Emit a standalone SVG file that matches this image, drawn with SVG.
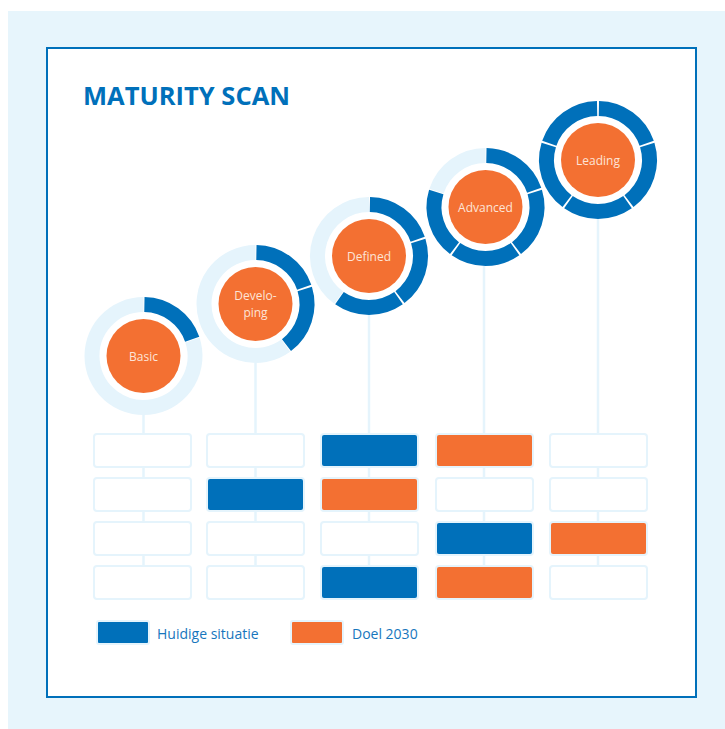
<svg xmlns="http://www.w3.org/2000/svg" xmlns:xlink="http://www.w3.org/1999/xlink" width="725" height="729" viewBox="0 0 725 729">
<style>
.lt{fill:none;stroke:#E5F4FC;stroke-width:15}
.bl{fill:none;stroke:#0070BA;stroke-width:15}
.core{fill:#F37032}
.lbl{font-family:"Open Sans","Noto Sans",sans-serif;font-size:12px;fill:#FDE4D7;text-anchor:middle}
.conn{stroke:#E5F4FC;stroke-width:2.5;fill:none}
.box{stroke:#E5F4FC;stroke-width:2}
.e{fill:#FFFFFF}
.b{fill:#0070BA}
.o{fill:#F37032}
.leg{font-family:"Open Sans","Noto Sans",sans-serif;font-size:14px;fill:#1776BD}
</style>
<defs>
<path id="s0" class="bl" d="M0.899,-51.492 A51.5,51.5 0 0 1 48.694,-16.767"/>
<path id="s1" class="bl" d="M49.249,-15.057 A51.5,51.5 0 0 1 30.994,41.130"/>
<path id="s2" class="bl" d="M29.539,42.186 A51.5,51.5 0 0 1 -29.539,42.186"/>
<path id="s3" class="bl" d="M-30.994,41.130 A51.5,51.5 0 0 1 -49.249,-15.057"/>
<path id="s4" class="bl" d="M-48.694,-16.767 A51.5,51.5 0 0 1 -0.899,-51.492"/>
</defs>
<rect x="8" y="11" width="717" height="718" fill="#E7F5FC"/>
<rect x="47" y="48" width="649" height="649" fill="#FFFFFF" stroke="#0070BA" stroke-width="2"/>
<text x="83" y="105" font-family="'Open Sans','Noto Sans',sans-serif" font-weight="700" font-size="25" fill="#0070BA" textLength="207" lengthAdjust="spacingAndGlyphs">MATURITY SCAN</text>
<g id="connectors">
<line class="conn" x1="143.5" y1="415" x2="143.5" y2="566"/>
<line class="conn" x1="255.5" y1="363" x2="255.5" y2="566"/>
<line class="conn" x1="369" y1="315" x2="369" y2="566"/>
<line class="conn" x1="484" y1="266" x2="484" y2="566"/>
<line class="conn" x1="598" y1="219" x2="598" y2="566"/>
</g>
<g id="basic" transform="translate(143.5,356)">
<path class="lt" d="M48.979,-15.914 A51.5,51.5 0 1 1 0,-51.5"/>
<use xlink:href="#s0" href="#s0"/>
<circle class="core" r="37"/>
<text class="lbl" y="4.5">Basic</text>
</g>
<g id="developing" transform="translate(255.5,304)">
<path class="lt" d="M30.271,41.664 A51.5,51.5 0 1 1 0,-51.5"/>
<use xlink:href="#s0" href="#s0"/>
<use xlink:href="#s1" href="#s1"/>
<circle class="core" r="37"/>
<text class="lbl" y="-4">Develo-</text>
<text class="lbl" y="13">ping</text>
</g>
<g id="defined" transform="translate(369,256)">
<path class="lt" d="M-30.271,41.664 A51.5,51.5 0 0 1 0,-51.5"/>
<use xlink:href="#s0" href="#s0"/>
<use xlink:href="#s1" href="#s1"/>
<use xlink:href="#s2" href="#s2"/>
<circle class="core" r="37"/>
<text class="lbl" y="4.5">Defined</text>
</g>
<g id="advanced" transform="translate(485.5,207)">
<path class="lt" d="M-48.979,-15.914 A51.5,51.5 0 0 1 0,-51.5"/>
<use xlink:href="#s0" href="#s0"/>
<use xlink:href="#s1" href="#s1"/>
<use xlink:href="#s2" href="#s2"/>
<use xlink:href="#s3" href="#s3"/>
<circle class="core" r="37"/>
<text class="lbl" y="4.5">Advanced</text>
</g>
<g id="leading" transform="translate(598,160)">
<use xlink:href="#s0" href="#s0"/>
<use xlink:href="#s1" href="#s1"/>
<use xlink:href="#s2" href="#s2"/>
<use xlink:href="#s3" href="#s3"/>
<use xlink:href="#s4" href="#s4"/>
<circle class="core" r="37"/>
<text class="lbl" y="4.5">Leading</text>
</g>
<g id="grid">
<g id="col-basic">
<rect class="box e" x="94" y="434" width="97" height="33" rx="3"/>
<rect class="box e" x="94" y="478" width="97" height="33" rx="3"/>
<rect class="box e" x="94" y="522" width="97" height="33" rx="3"/>
<rect class="box e" x="94" y="566" width="97" height="33" rx="3"/>
</g>
<g id="col-developing">
<rect class="box e" x="207" y="434" width="97" height="33" rx="3"/>
<rect class="box b" x="207" y="478" width="97" height="33" rx="3"/>
<rect class="box e" x="207" y="522" width="97" height="33" rx="3"/>
<rect class="box e" x="207" y="566" width="97" height="33" rx="3"/>
</g>
<g id="col-defined">
<rect class="box b" x="321" y="434" width="97" height="33" rx="3"/>
<rect class="box o" x="321" y="478" width="97" height="33" rx="3"/>
<rect class="box e" x="321" y="522" width="97" height="33" rx="3"/>
<rect class="box b" x="321" y="566" width="97" height="33" rx="3"/>
</g>
<g id="col-advanced">
<rect class="box o" x="436" y="434" width="97" height="33" rx="3"/>
<rect class="box e" x="436" y="478" width="97" height="33" rx="3"/>
<rect class="box b" x="436" y="522" width="97" height="33" rx="3"/>
<rect class="box o" x="436" y="566" width="97" height="33" rx="3"/>
</g>
<g id="col-leading">
<rect class="box e" x="550" y="434" width="97" height="33" rx="3"/>
<rect class="box e" x="550" y="478" width="97" height="33" rx="3"/>
<rect class="box o" x="550" y="522" width="97" height="33" rx="3"/>
<rect class="box e" x="550" y="566" width="97" height="33" rx="3"/>
</g>
</g>
<g id="legend">
<rect class="box b" x="97" y="621" width="52" height="23" rx="2"/>
<text class="leg" x="157" y="639">Huidige situatie</text>
<rect class="box o" x="291" y="621" width="52" height="23" rx="2"/>
<text class="leg" x="352" y="639">Doel 2030</text>
</g>
</svg>
